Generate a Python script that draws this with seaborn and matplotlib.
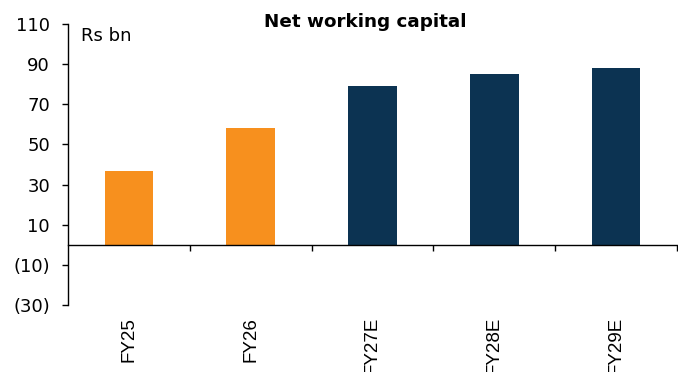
import matplotlib
matplotlib.use("Agg")
import matplotlib.pyplot as plt
from matplotlib.ticker import FuncFormatter, FixedLocator
import seaborn as sns
import pandas as pd

# Net working capital, Rs bn
years = ["FY25", "FY26", "FY27E", "FY28E", "FY29E"]
values = [37, 58, 79, 85, 88]
colors = ["#F7901E", "#F7901E", "#0C3352", "#0C3352", "#0C3352"]
y_ticks = [-30, -10, 10, 30, 50, 70, 90, 110]

sns.set_theme(style="white")
plt.rcParams["font.family"] = ["DejaVu Sans"]
plt.rcParams["text.color"] = "black"
plt.rcParams["xtick.color"] = "black"
plt.rcParams["ytick.color"] = "black"
plt.rcParams["axes.labelcolor"] = "black"

df = pd.DataFrame({"year": years, "value": values})

fig = plt.figure(figsize=(6.78, 3.72), dpi=100)
ax = fig.add_axes([68 / 678, 67 / 372, 609 / 678, 281 / 372])

sns.barplot(data=df, x="year", y="value", hue="year", palette=colors,
            width=0.4, legend=False, ax=ax, saturation=1, linewidth=0)

ax.set_ylim(-30, 110)
ax.set_xlim(-0.5, len(years) - 0.5)
ax.yaxis.set_major_locator(FixedLocator(y_ticks))
ax.yaxis.set_major_formatter(
    FuncFormatter(lambda v, _: f"({abs(int(v))})" if v < 0 else f"{int(v)}"))

for side in ["top", "right"]:
    ax.spines[side].set_visible(False)
ax.spines["bottom"].set_position(("data", 0))
for side in ["left", "bottom"]:
    ax.spines[side].set_color("black")
    ax.spines[side].set_linewidth(1.0)

ax.tick_params(axis="y", which="major", direction="out", length=4.5, width=1.0,
               color="black", labelcolor="black", labelsize=13, pad=8.5, left=True)
ax.set_xticks(range(len(years)))
ax.set_xticklabels(years, rotation=90, fontsize=13.5, family=["Liberation Sans"],
                   color="black")
ax.tick_params(axis="x", which="major", length=0, pad=52, bottom=True)
ax.set_xticks([i + 0.5 for i in range(len(years))], minor=True)
ax.tick_params(axis="x", which="minor", direction="out", length=4.5, width=1.0,
               color="black", bottom=True)
for lbl in ax.get_xticklabels():
    lbl.set_verticalalignment("top")

ax.set_xlabel("")
ax.set_ylabel("")
ax.grid(False)

fig.text(365 / 678, 1 - 22 / 372, "Net working capital", ha="center", va="center",
         fontsize=13.2, fontweight="bold", color="black")
ax.text(81 / 678, 1 - 36 / 372, "Rs bn", transform=fig.transFigure,
        ha="left", va="center", fontsize=13, color="black")

fig.savefig("out.png", dpi=100)
